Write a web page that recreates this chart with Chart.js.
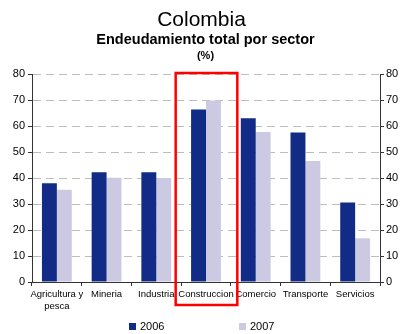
<!DOCTYPE html>
<html>
<head>
<meta charset="utf-8">
<script src="https://cdn.jsdelivr.net/npm/chart.js@4/dist/chart.umd.min.js"></script>
<style>
  html, body { margin: 0; padding: 0; background: #fff; }
  #wrap { width: 403px; height: 334px; }
</style>
</head>
<body>
<div id="wrap"><canvas id="myChart" width="403" height="334"></canvas></div>
<script>
const sectors = [["Agricultura y", "pesca"], "Mineria", "Industria", "Construccion", "Comercio", "Transporte", "Servicios"];
const years = ["2006", "2007"];
const debt2006 = [38, 42.2, 42.2, 66.3, 63, 57.5, 30.6];
const debt2007 = [35.5, 40.1, 40, 69.8, 57.7, 46.5, 16.8];
const yTicks = [0, 10, 20, 30, 40, 50, 60, 70, 80];
const highlightIndex = 3;

const colors = ["#112b86", "#cbcae2"];
const FONT = "'Liberation Sans', Arial, sans-serif";

// headings above the plot
const headings = {
  id: "headings",
  afterDraw(chart) {
    const ctx = chart.ctx;
    const cx = chart.width / 2;
    ctx.save();
    ctx.fillStyle = "#000";
    ctx.textAlign = "center";
    ctx.textBaseline = "alphabetic";
    ctx.font = "21px " + FONT;
    ctx.fillText("Colombia", cx, 26);
    ctx.font = "bold 14.5px " + FONT;
    ctx.fillText("Endeudamiento total por sector", cx + 4, 44);
    ctx.font = "bold 11px " + FONT;
    ctx.fillText("(%)", cx + 4, 59);
    ctx.restore();
  },
};

// red frame around the highlighted sector
const highlight = {
  id: "highlight",
  afterDraw(chart) {
    const x = chart.scales.x;
    const y = chart.scales.y;
    const step = (x.right - x.left) / sectors.length;
    const cx = x.getPixelForValue(highlightIndex);
    const left = cx - step * 0.61;
    const right = cx + step * 0.63;
    const top = y.getPixelForValue(80) - 1;
    const bottom = chart.chartArea.bottom + 23;
    const ctx = chart.ctx;
    ctx.save();
    ctx.strokeStyle = "#ff0000";
    ctx.lineWidth = 2.5;
    ctx.strokeRect(left, top, right - left, bottom - top);
    ctx.restore();
  },
};

// legend row at the bottom, wide gap between entries
const bottomLegend = {
  id: "bottomLegend",
  afterDraw(chart) {
    const ctx = chart.ctx;
    const starts = [129, 239];
    ctx.save();
    ctx.font = "11px " + FONT;
    ctx.textBaseline = "middle";
    ctx.textAlign = "left";
    chart.data.datasets.forEach((ds, i) => {
      const x0 = starts[i];
      ctx.fillStyle = ds.backgroundColor;
      ctx.fillRect(x0, 323, 7, 7);
      ctx.fillStyle = "#000";
      ctx.fillText(ds.label, x0 + 11, 327);
    });
    ctx.restore();
  },
};

const ctx = document.getElementById("myChart").getContext("2d");

const myChart = new Chart(ctx, {
  type: "bar",
  data: {
    labels: sectors,
    datasets: [
      {
        label: years[0],
        data: debt2006,
        backgroundColor: colors[0],
        categoryPercentage: 0.6,
        barPercentage: 1.0,
      },
      {
        label: years[1],
        data: debt2007,
        backgroundColor: colors[1],
        categoryPercentage: 0.6,
        barPercentage: 1.0,
      },
    ],
  },
  options: {
    responsive: false,
    animation: false,
    layout: { padding: { top: 74, left: 0, right: 0, bottom: 0 } },
    plugins: {
      legend: { display: false },
      title: { display: false },
      tooltip: { enabled: false },
    },
    scales: {
      x: {
        afterFit: (scale) => { scale.height = 52; },
        ticks: {
          color: "#000",
          font: { family: FONT, size: 9.5 },
          autoSkip: false,
          maxRotation: 0,
          padding: 3,
        },
        grid: {
          offset: true,
          drawOnChartArea: false,
          tickLength: 4,
          tickColor: "#333",
        },
        border: { color: "#333", width: 1 },
      },
      y: {
        position: "left",
        min: 0,
        max: 80,
        afterFit: (scale) => { scale.width = 32; },
        afterBuildTicks: (scale) => { scale.ticks = yTicks.map((v) => ({ value: v })); },
        ticks: {
          color: "#000",
          font: { family: FONT, size: 11 },
          padding: 3,
        },
        grid: {
          color: "#bdbdbd",
          lineWidth: 1,
          tickLength: 4,
          tickColor: "#333",
        },
        border: { color: "#333", width: 1, dash: [8, 5] },
      },
      y2: {
        position: "right",
        min: 0,
        max: 80,
        afterFit: (scale) => { scale.width = 23; },
        afterBuildTicks: (scale) => { scale.ticks = yTicks.map((v) => ({ value: v })); },
        ticks: {
          color: "#000",
          font: { family: FONT, size: 11 },
          padding: 2,
        },
        grid: {
          drawOnChartArea: false,
          tickLength: 4,
          tickColor: "#333",
        },
        border: { color: "#333", width: 1 },
      },
    },
  },
  plugins: [headings, highlight, bottomLegend],
});
</script>
</body>
</html>
